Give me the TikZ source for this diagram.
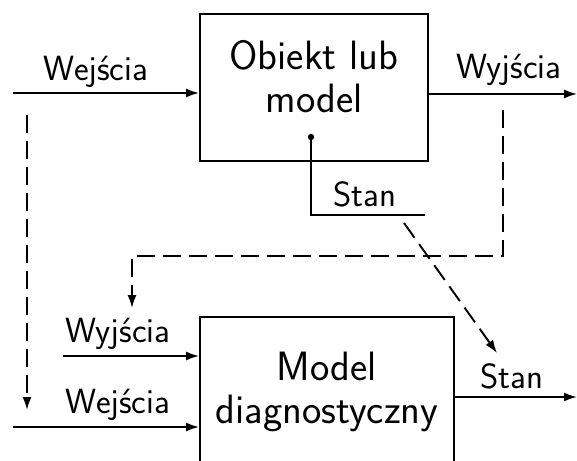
\RequirePackage{fix-cm}
\documentclass[tikz,border=0pt]{standalone}
\usetikzlibrary{arrows.meta}
\begin{document}
\begin{tikzpicture}[x=1pt,y=-1pt,
  every node/.style={font=\sffamily\fontsize{35}{43}\selectfont},
  wire/.style={line width=1.9pt},
  flow/.style={wire,-{Latex[length=13pt,width=9pt]}},
  dflow/.style={flow,dash pattern=on 18pt off 8pt},
  block/.style={draw,line width=1.9pt,inner sep=0pt},
  inblock/.style={anchor=base,inner sep=0pt,font=\sffamily\fontsize{41}{49}\selectfont},
  lab/.style={anchor=base,inner sep=0pt}]
\clip (0,0) rectangle (577,460);
% blocks
\node[block,minimum width=228pt,minimum height=147pt] (obj) at (314,87.5) {};
\node[block,minimum width=254pt,minimum height=160pt] (diag) at (327,397) {};
\node[inblock] (t1) at (314,69) {Obiekt lub};
\node[inblock] (t2) at (314,112) {model};
\node[inblock] (t3) at (327,380) {Model};
\node[inblock] (t4) at (327,423) {diagnostyczny};
% endpoints of the wires
\coordinate (inA) at (13,93);
\coordinate (outA) at (577,94);
\coordinate (inB) at (13,427);
\coordinate (yB) at (63,356);
\coordinate (outB) at (577,397);
\coordinate (dl0) at (27,115);
\coordinate (dl1) at (27,410);
\coordinate (dr0) at (503,110);
\coordinate (dr1) at (503,256);
\coordinate (dr2) at (132,256);
\coordinate (dr3) at (132,308);
\coordinate (st0) at (311,137);
\coordinate (st1) at (311,215);
\coordinate (st2) at (425,215);
\coordinate (dg0) at (404,223);
\coordinate (dg1) at (497,353);
% solid signals
\draw[flow] (inA) -- (inA -| obj.west);
\draw[flow] (outA -| obj.east) -- (outA);
\draw[flow] (yB) -- (yB -| diag.west);
\draw[flow] (inB) -- (inB -| diag.west);
\draw[flow] (outB -| diag.east) -- (outB);
% state tap
\fill (st0) circle (3.2pt);
\draw[wire] (st0) -- (st1) -- (st2);
% dashed links
\draw[dflow] (dl0) -- (dl1);
\draw[dflow] (dr0) -- (dr1) -- (dr2) -- (dr3);
\draw[dflow] (dg0) -- (dg1);
% labels
\node[lab] (l1) at (96,80) {Wejścia};
\node[lab] (l2) at (509,78) {Wyjścia};
\node[lab] (l3) at (365,206) {Stan};
\node[lab] (l4) at (118,342) {Wyjścia};
\node[lab] (l5) at (118,413) {Wejścia};
\node[lab] (l6) at (512,388) {Stan};
\end{tikzpicture}
\end{document}
